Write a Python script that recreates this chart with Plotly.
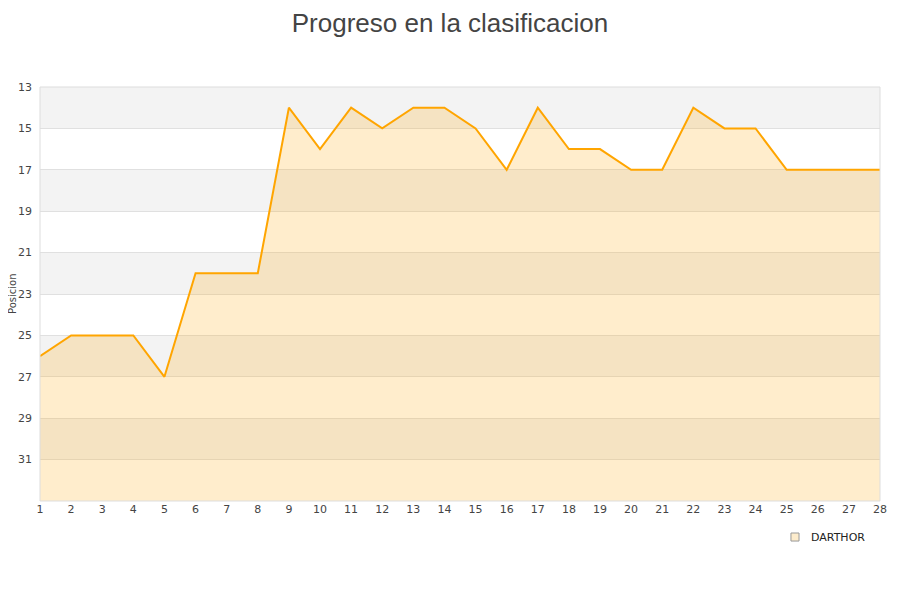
import plotly.graph_objects as go

jornadas = list(range(1, 29))
posicion = [26, 25, 25, 25, 27, 22, 22, 22, 14, 16, 14, 15, 14, 14, 15, 17, 14, 16, 16, 17, 17, 14, 15, 15, 17, 17, 17, 17]
y_ticks = [13, 15, 17, 19, 21, 23, 25, 27, 29, 31]
y_min, y_max = 13, 33
team = "DARTHOR"

fig = go.Figure()
# baseline at the bottom of the (reversed) axis for the area fill
fig.add_trace(go.Scatter(x=jornadas, y=[y_max] * len(jornadas), mode="lines",
                         line=dict(width=0), showlegend=False, hoverinfo="skip"))
fig.add_trace(go.Scatter(x=jornadas, y=posicion, mode="lines", fill="tonexty",
                         fillcolor="rgba(255,165,0,0.2)", name=team,
                         line=dict(color="#ffa500", width=2), showlegend=False))

shapes = []
for i, t in enumerate(range(y_min, y_max, 2)):
    if i % 2 == 0:
        shapes.append(dict(type="rect", xref="paper", yref="y", x0=0, x1=1, y0=t, y1=t + 2,
                           fillcolor="#f3f3f3", line=dict(width=0), layer="below"))
shapes.append(dict(type="rect", xref="paper", yref="paper", x0=0, x1=1, y0=0, y1=1,
                   line=dict(color="#dddddd", width=1), layer="above"))
# legend swatch
shapes.append(dict(type="rect", xref="paper", yref="paper",
                   x0=0.8988 - 0.0048, x1=0.8988 + 0.0048,
                   y0=-0.0870 - 0.0097, y1=-0.0870 + 0.0097,
                   fillcolor="#fdeccc", line=dict(color="#999999", width=1)))

fig.update_layout(
    width=900, height=600,
    paper_bgcolor="white", plot_bgcolor="white",
    margin=dict(l=32, r=28, t=79, b=107, autoexpand=False),
    title=dict(text="Progreso en la clasificacion", xref="container", x=442 / 900, xanchor="center",
               yref="container", y=1 - 15 / 600, yanchor="middle",
               font=dict(family="Liberation Sans, Arial", size=26, color="#444444")),
    font=dict(family="DejaVu Sans, Arial", size=11, color="#444444"),
    shapes=shapes,
    showlegend=False,
    annotations=[
        dict(text="Posicion", xref="paper", yref="paper", x=(4 - 32) / 840, y=0.5,
             xanchor="center", yanchor="middle", textangle=-90, showarrow=False,
             font=dict(size=10, color="#444444")),
        dict(text=team, xref="paper", yref="paper", x=0.9155, y=-0.0870,
             xanchor="left", yanchor="middle", showarrow=False,
             font=dict(size=11, color="#222222")),
    ],
    xaxis=dict(range=[1, 28], tickmode="array", tickvals=jornadas, showgrid=False,
               zeroline=False, showline=False, ticks="", automargin=False,
               tickfont=dict(size=11, color="#444444")),
    yaxis=dict(range=[y_max, y_min], tickmode="array", tickvals=y_ticks, showgrid=True,
               gridcolor="#e0e0e0", gridwidth=1, zeroline=False, showline=False, ticks="",
               ticklabelstandoff=7, automargin=False, tickfont=dict(size=11, color="#444444")),
)

fig.write_html("out.html")
